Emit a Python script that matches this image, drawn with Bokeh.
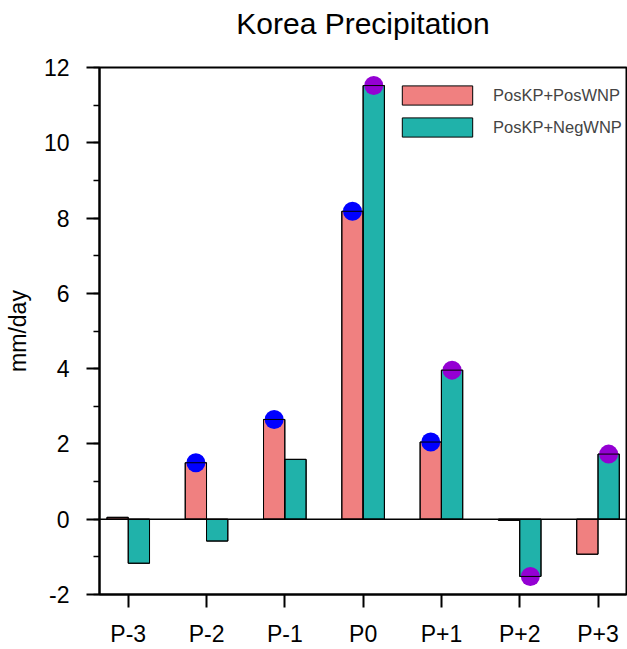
import numpy as np
from bokeh.plotting import figure
from bokeh.models import (ColumnDataSource, FixedTicker, SingleIntervalTicker,
                          Range1d, Span, Legend, LegendItem, Title)
from bokeh.transform import dodge
from bokeh.embed import file_html
from bokeh.resources import INLINE

title_text = "Korea Precipitation"
categories = ["P-3", "P-2", "P-1", "P0", "P+1", "P+2", "P+3"]
pos_wnp = [0.05, 1.50, 2.65, 8.18, 2.05, -0.03, -0.93]
neg_wnp = [-1.17, -0.58, 1.59, 11.52, 3.96, -1.52, 1.73]
sig_pos = [False, True, True, True, True, False, False]
sig_neg = [False, False, False, True, True, True, True]
series_names = ["PosKP+PosWNP", "PosKP+NegWNP"]
y_tick_labels = {-2: "-2", 0: "0", 2: "2", 4: "4", 6: "6", 8: "8", 10: "10", 12: "12"}

FONT = "Liberation Sans"
RED = "#F08080"
TEAL = "#20B2AA"

idx = np.arange(len(categories))
src = ColumnDataSource(dict(x=idx, pos=pos_wnp, neg=neg_wnp))
src_pos_sig = ColumnDataSource(dict(
    x=[i for i, s in zip(idx, sig_pos) if s],
    y=[v for v, s in zip(pos_wnp, sig_pos) if s]))
src_neg_sig = ColumnDataSource(dict(
    x=[i for i, s in zip(idx, sig_neg) if s],
    y=[v for v, s in zip(neg_wnp, sig_neg) if s]))

p = figure(width=627, height=649, output_backend="svg", toolbar_location=None,
           x_range=Range1d(-0.367, 6.364), y_range=Range1d(-2, 12),
           min_border_left=99, min_border_right=1, min_border_top=67,
           min_border_bottom=55)

# white spacer next to the frame, then the title above it
p.add_layout(Title(text=".", text_font_size="10px", text_color="white",
                   standoff=18), "above")
p.add_layout(Title(text=title_text, text_font=FONT, text_font_size="30px",
                   text_font_style="normal", align="center", standoff=0,
                   text_color="black"), "above")

p.xgrid.visible = False
p.ygrid.visible = False
p.outline_line_color = "black"
p.outline_line_width = 2
p.background_fill_color = "white"
p.border_fill_color = "white"

W = 0.272
off = W / 2
r_pos = p.vbar(x=dodge("x", -off), top="pos", bottom=0, width=W, source=src,
               fill_color=RED, line_color="black", line_width=1)
r_neg = p.vbar(x=dodge("x", off), top="neg", bottom=0, width=W, source=src,
               fill_color=TEAL, line_color="black", line_width=1)

p.add_layout(Span(location=0, dimension="width", line_color="black", line_width=1.5))

p.scatter(x=dodge("x", -off), y="y", source=src_pos_sig, size=19,
          fill_color="#0000FF", line_color=None)
p.scatter(x=dodge("x", off), y="y", source=src_neg_sig, size=19,
          fill_color="#9400D3", line_color=None)

# outlines over the dots
p.vbar(x=dodge("x", -off), top="pos", bottom=0, width=W, source=src,
       fill_color=None, line_color="black", line_width=1)
p.vbar(x=dodge("x", off), top="neg", bottom=0, width=W, source=src,
       fill_color=None, line_color="black", line_width=1)

legend = Legend(items=[LegendItem(label=series_names[0], renderers=[r_pos]),
                       LegendItem(label=series_names[1], renderers=[r_neg])],
                location=(294, 455), padding=0, margin=0, spacing=8,
                glyph_width=88, glyph_height=24, label_height=24,
                label_standoff=12, label_text_font=FONT,
                label_text_font_size="16.5px", border_line_color=None,
                background_fill_alpha=0)
p.add_layout(legend, "center")

# x axis
xa = p.xaxis[0]
xa.ticker = FixedTicker(ticks=list(idx))
xa.major_label_overrides = {int(i): c for i, c in zip(idx, categories)}
xa.minor_tick_line_color = None
xa.major_tick_in = 0
xa.major_tick_out = 13
xa.major_tick_line_width = 2
xa.axis_line_width = 2
xa.major_label_text_font = FONT
xa.major_label_text_font_size = "23px"
xa.major_label_standoff = 13
xa.major_label_text_color = "black"

# y axis
ya = p.yaxis[0]
ya.ticker = SingleIntervalTicker(interval=2, num_minor_ticks=2)
ya.major_label_overrides = y_tick_labels
ya.major_tick_in = 0
ya.major_tick_out = 13
ya.minor_tick_in = 0
ya.minor_tick_out = 6
ya.major_tick_line_width = 2
ya.minor_tick_line_width = 1.5
ya.axis_line_width = 2
ya.major_label_text_font = FONT
ya.major_label_text_font_size = "23px"
ya.major_label_standoff = 17
ya.major_label_text_color = "black"
ya.axis_label = "mm/day"
ya.axis_label_text_font = FONT
ya.axis_label_text_font_size = "23px"
ya.axis_label_text_font_style = "normal"
ya.axis_label_standoff = 10
ya.axis_label_text_color = "black"

open("out.html", "w").write(file_html(p, INLINE))
